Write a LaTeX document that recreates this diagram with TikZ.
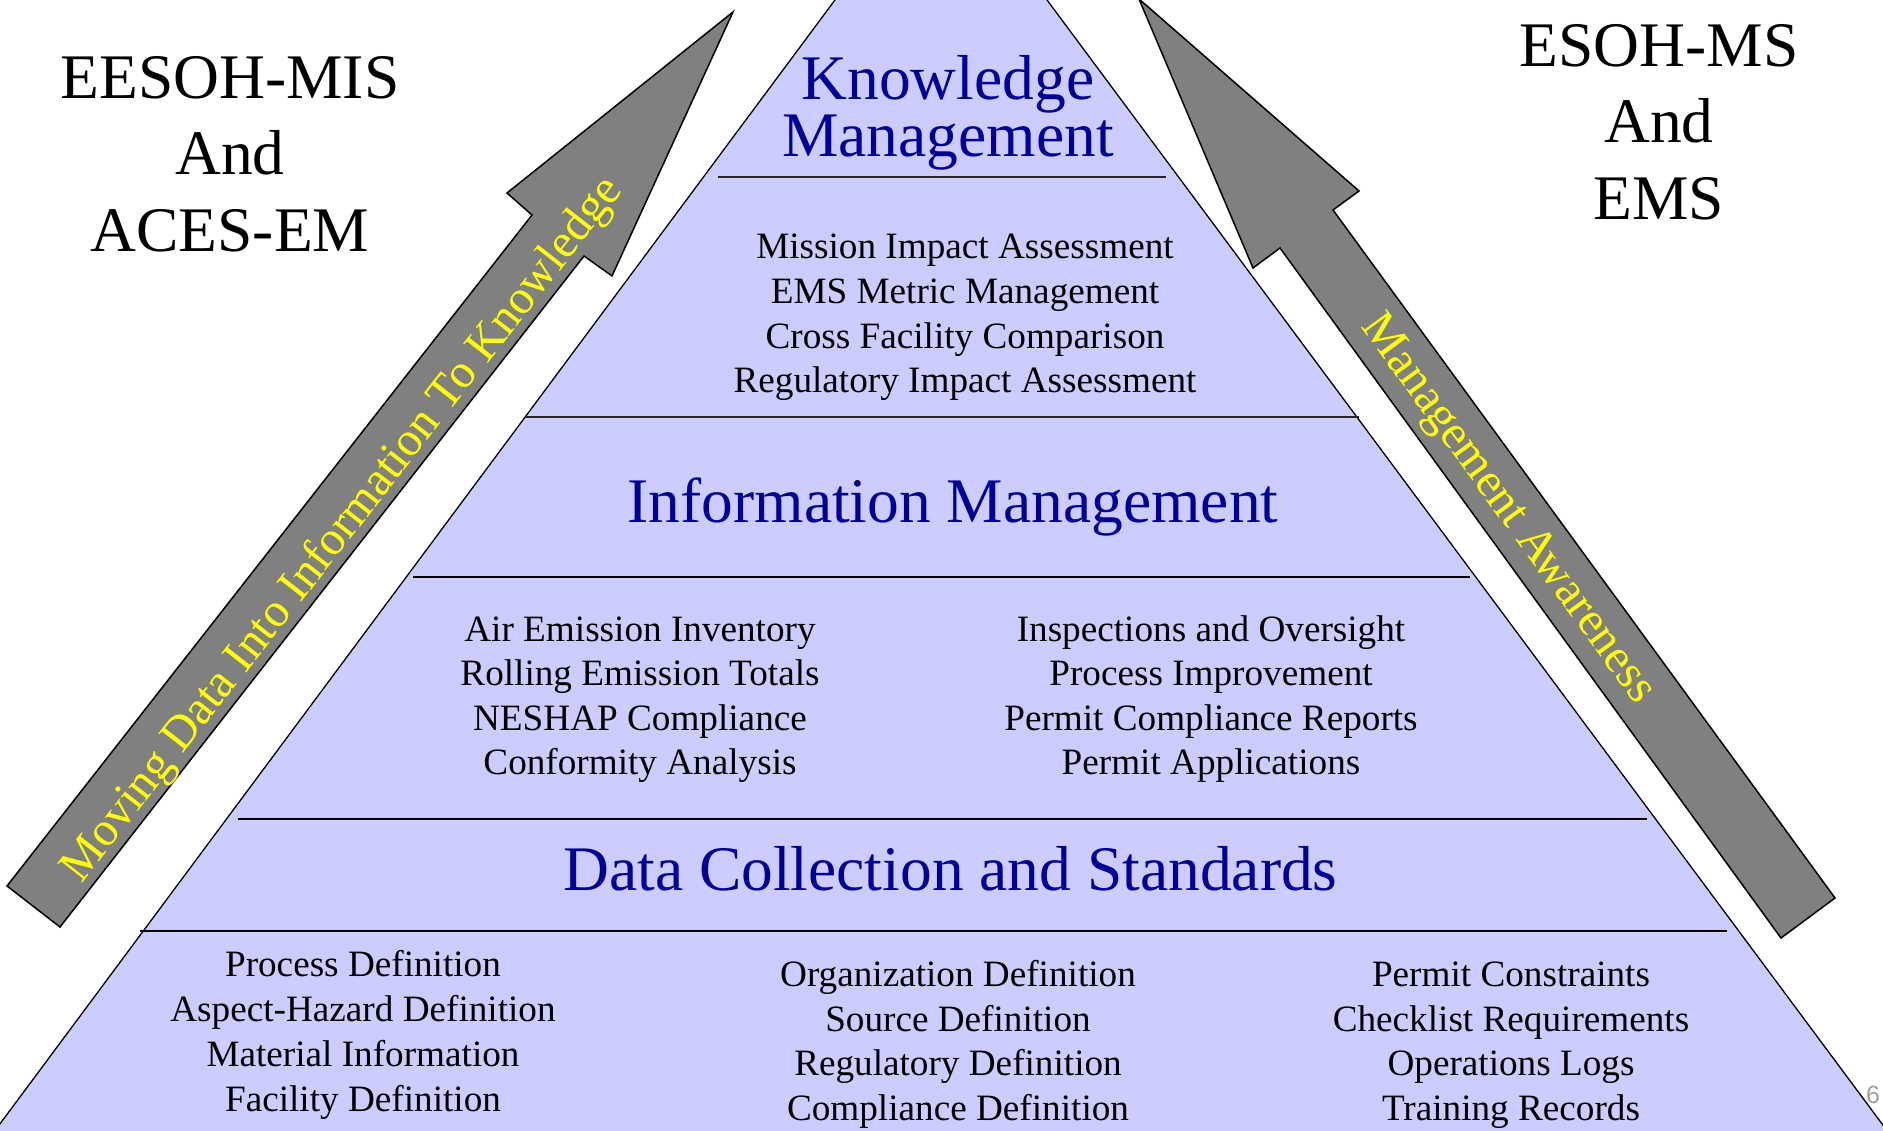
\documentclass[tikz,border=0pt]{standalone}
\usepackage{fontspec}
\setmainfont{Liberation Serif}
\setsansfont{Liberation Sans}
\definecolor{pyrfill}{HTML}{CCCCFF}
\definecolor{kblue}{HTML}{000099}
\definecolor{arrgray}{HTML}{808080}
\definecolor{txtyellow}{HTML}{FFFF00}
\definecolor{pggray}{HTML}{A0A0A0}
\tikzset{
  heading/.style={font=\fontsize{63.5}{70}\selectfont, text=kblue, anchor=base, inner sep=0pt},
  item/.style={font=\fontsize{37.2}{44}\selectfont, text=black, anchor=base, inner sep=0pt},
  sidetitle/.style={font=\fontsize{63.5}{70}\selectfont, text=black, anchor=base, inner sep=0pt},
  arrowtext/.style={font=\fontsize{48}{50}\selectfont, text=txtyellow, inner sep=0pt},
  sepline/.style={draw=black, line width=1.8pt},
  thinsep/.style={draw=black!85, line width=1.5pt},
  bigarrow/.style={fill=arrgray, draw=black, line width=1.5pt, line join=miter},
  pyramid/.style={fill=pyrfill, draw=black, line width=1.3pt}
}
\begin{document}
\begin{tikzpicture}[x=1pt,y=-1pt]
\useasboundingbox (0,0) rectangle (1883,1131);

% pyramid
\path[pyramid] (941,-142.7) -- (1894,1140) -- (-12,1140) -- cycle;

% separators
\coordinate (a1) at (718,177);  \coordinate (b1) at (1166,177);
\coordinate (a2) at (526,417);  \coordinate (b2) at (1359,417);
\coordinate (a3) at (413,577);  \coordinate (b3) at (1470,577);
\coordinate (a4) at (238,819);  \coordinate (b4) at (1647,819);
\coordinate (a5) at (140,931);  \coordinate (b5) at (1727,931);
\draw[thinsep] (a1) -- (b1);
\draw[thinsep] (a2) -- (b2);
\draw[sepline] (a3) -- (b3);
\draw[sepline] (a4) -- (b4);
\draw[sepline] (a5) -- (b5);

% left arrow
\path[bigarrow] (733,12) -- (612,276) -- (584,256) -- (60,927) -- (7,886)
  -- (532,215) -- (507,193) -- cycle;
% right arrow
\path[bigarrow] (1139,-1) -- (1359,191) -- (1333,210) -- (1835,898) -- (1781,938)
  -- (1280,248) -- (1253,268) -- cycle;

\node[arrowtext, rotate=52] (larrtxt) at (343,530) {Moving Data Into Information To Knowledge};
\node[arrowtext, rotate=-53.9] (rarrtxt) at (1507,510) {Management Awareness};

% side titles
\node[sidetitle] (l1) at (230,99) {EESOH-MIS};
\node[sidetitle] (l2) at (230,175) {And};
\node[sidetitle] (l3) at (230,252) {ACES-EM};
\node[sidetitle] (r1) at (1659,67) {ESOH-MS};
\node[sidetitle] (r2) at (1659,143) {And};
\node[sidetitle] (r3) at (1659,220) {EMS};

% headings
\node[heading] (km1) at (948,100) {Knowledge};
\node[heading] (km2) at (948,157) {Management};
\node[heading] (im) at (953,522) {Information Management};
\node[heading] (dc) at (950.5,890) {Data Collection and Standards};

% knowledge items
\node[item] (k1) at (965,259) {Mission Impact Assessment};
\node[item] (k2) at (965,303.7) {EMS Metric Management};
\node[item] (k3) at (965,348.4) {Cross Facility Comparison};
\node[item] (k4) at (965,393) {Regulatory Impact Assessment};

% information items
\node[item] (i1) at (640,641) {Air Emission Inventory};
\node[item] (i2) at (640,685.5) {Rolling Emission Totals};
\node[item] (i3) at (640,730) {NESHAP Compliance};
\node[item] (i4) at (640,774.5) {Conformity Analysis};
\node[item] (j1) at (1211,641) {Inspections and Oversight};
\node[item] (j2) at (1211,685.5) {Process Improvement};
\node[item] (j3) at (1211,730) {Permit Compliance Reports};
\node[item] (j4) at (1211,774.5) {Permit Applications};

% data items
\node[item] (d1) at (363,976) {Process Definition};
\node[item] (d2) at (363,1021) {Aspect-Hazard Definition};
\node[item] (d3) at (363,1066) {Material Information};
\node[item] (d4) at (363,1111) {Facility Definition};
\node[item] (e1) at (958,986) {Organization Definition};
\node[item] (e2) at (958,1031) {Source Definition};
\node[item] (e3) at (958,1075.5) {Regulatory Definition};
\node[item] (e4) at (958,1120.5) {Compliance Definition};
\node[item] (f1) at (1511,986) {Permit Constraints};
\node[item] (f2) at (1511,1031) {Checklist Requirements};
\node[item] (f3) at (1511,1075.5) {Operations Logs};
\node[item] (f4) at (1511,1120.5) {Training Records};

% page number
\node[anchor=base west, inner sep=0pt, font=\sffamily\fontsize{25}{25}\selectfont, text=pggray] (pg) at (1866,1103) {6};
\end{tikzpicture}
\end{document}
